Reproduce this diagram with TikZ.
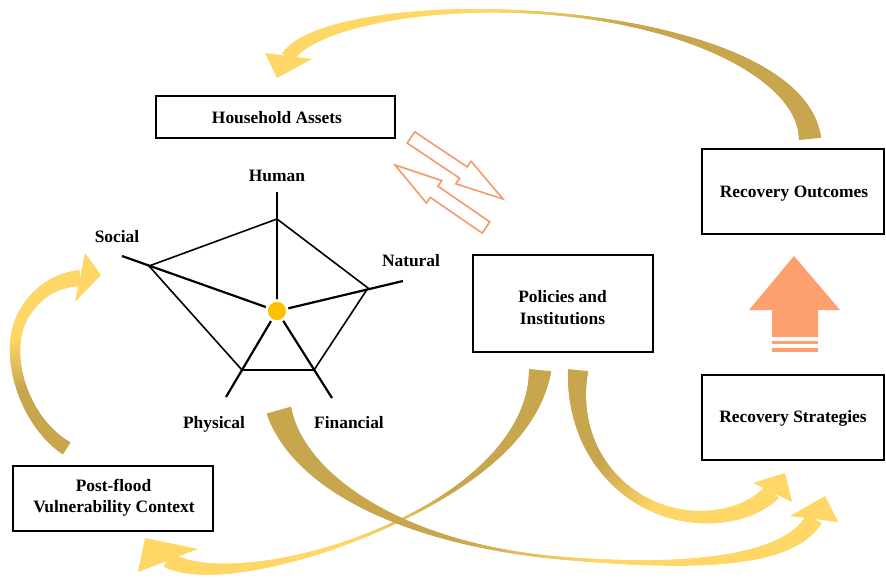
\documentclass[tikz,border=0pt]{standalone}
\usepackage{fontspec}
\setmainfont{Liberation Serif}
\usetikzlibrary{decorations.markings}
\definecolor{goldA}{RGB}{200,166,78}
\definecolor{goldB}{RGB}{255,215,102}
\definecolor{coralL}{RGB}{245,155,105}
\definecolor{coralF}{RGB}{251,160,110}
\definecolor{dotc}{RGB}{255,192,0}
\tikzset{
 taper/.style n args={4}{postaction={decorate,decoration={markings,
   mark=between positions 0 and 1 step 0.7pt with {%
     \pgfmathsetmacro\tpos{\pgfkeysvalueof{/pgf/decoration/mark info/distance from start}/\pgfdecoratedpathlength}%
     \pgfmathsetmacro\tq{\tpos<#3 ? (#3-\tpos)/#3 : (\tpos-#3)/(1-#3)}%
     \pgfmathsetmacro\trad{\tpos<#3 ? #2+(#1-#2)*\tq*\tq : #2+(#4-#2)*\tq*\tq}%
     \pgfmathtruncatemacro\tpc{max(0,min(100,100*(\tpos-#3+0.12)/0.24))}%
     \fill[goldB!\tpc!goldA] (-0.9pt,-\trad pt) rectangle (0.9pt,\trad pt);
   }}}},
 head/.style={fill=goldB},
 box/.style={draw=black, line width=1.8pt, fill=white, inner sep=0pt},
 lbl/.style={font=\fontsize{17.4}{23}\selectfont\bfseries, anchor=base, inner sep=0pt},
 spoke/.style={line width=2.2pt, black},
 pedge/.style={line width=1.6pt, black},
 hollow/.style={draw=coralL, line width=1.6pt, line join=miter, fill=white},
}
\begin{document}
\begin{tikzpicture}[x=1pt,y=-1pt]
\useasboundingbox[fill=white] (0,0) rectangle (886,578);

% ---- gold curved arrows ----
% top: Recovery Outcomes -> Household Assets
\path[taper={11}{1.2}{0.5}{7}] (810,138) .. controls (803,65) and (660,14) .. (500,11) .. controls (390,9) and (305,30) .. (288,57);
\fill[head] (265,53) -- (277,78) -- (312,59) -- cycle;
% left: Post-flood -> Social
\path[taper={7}{5}{0.45}{8}] (66,448) .. controls (22,420) and (2,350) .. (24,314) .. controls (38,290) and (58,280) .. (80,278);
\fill[head] (85,253) -- (101,275) -- (75,302) -- cycle;
% Policies -> Post-flood
\path[taper={11}{1.2}{0.45}{8}] (540,371) .. controls (532,450) and (440,510) .. (340,545) .. controls (260,572) and (195,575) .. (168,560);
\fill[head] (138,572) -- (145,538) -- (198,549) -- cycle;
% Assets -> Recovery Strategies
\path[taper={12.5}{1.2}{0.5}{9}] (279,411) .. controls (300,485) and (410,545) .. (560,558) .. controls (700,570) and (790,560) .. (814,519);
\fill[head] (790,516) -- (825,496) -- (838,522) -- cycle;
% Policies -> Recovery Strategies
\path[taper={10}{5}{0.45}{9}] (578,371) .. controls (570,455) and (630,515) .. (700,517) .. controls (735,518) and (760,505) .. (772,492);
\fill[head] (753,483) -- (785,473) -- (792,502) -- cycle;

% ---- boxes ----
\node[box, minimum width=239, minimum height=42] (ha) at (275.5,117) {};
\node[box, minimum width=182, minimum height=85] (ro) at (793,191.5) {};
\node[box, minimum width=180, minimum height=97] (pi) at (563,303.5) {};
\node[box, minimum width=182, minimum height=85] (rs) at (793,417.5) {};
\node[box, minimum width=200, minimum height=65] (pv) at (113,498.5) {};

\node[lbl] (hat) at (277,123) {Household Assets};
\node[lbl] (rot) at (794,197) {Recovery Outcomes};
\node[lbl] (pit1) at (562.5,302.5) {Policies and};
\node[lbl] (pit2) at (562.5,324) {Institutions};
\node[lbl] (rst) at (793,422) {Recovery Strategies};
\node[lbl] (pvt1) at (113.5,491) {Post-flood};
\node[lbl] (pvt2) at (114,512) {Vulnerability Context};

% ---- asset pentagon ----
\coordinate (c) at (277,311);
\coordinate (hv) at (277,219);
\coordinate (sv) at (149,266);
\coordinate (nv) at (368,288);
\coordinate (fv) at (314,370);
\coordinate (pv2) at (242,370);
\coordinate (he) at (277,192);
\coordinate (se) at (122,256);
\coordinate (ne) at (403,281);
\coordinate (fe) at (332,398);
\coordinate (pe) at (226,397);
\draw[pedge] (hv) -- (nv) -- (fv) -- (pv2) -- (sv) -- cycle;
\draw[spoke] (he) -- (c);
\draw[spoke] (se) -- (c);
\draw[spoke] (ne) -- (c);
\draw[spoke] (fe) -- (c);
\draw[spoke] (pe) -- (c);
\node[circle, fill=dotc, draw=white, line width=2.5pt, minimum size=21, inner sep=0pt] (dot) at (c) {};

\node[lbl] (hum) at (277,181) {Human};
\node[lbl] (soc) at (117,242) {Social};
\node[lbl] (nat) at (411,266) {Natural};
\node[lbl] (phy) at (214,428) {Physical};
\node[lbl] (fin) at (349,428) {Financial};

% ---- hollow double arrow ----
\draw[hollow] (414.8,131.9) -- (467.2,166.9) -- (471.0,161.2) -- (503,199) -- (455.8,183.8) -- (459.6,178.2) -- (407.2,143.1) -- cycle;
\draw[hollow] (489.8,221.9) -- (437.9,186.2) -- (441.8,180.6) -- (395,165) -- (426.4,203.0) -- (430.3,197.4) -- (482.2,233.1) -- cycle;

% ---- filled up arrow ----
\fill[coralF] (772,337) -- (772,310) -- (749,310) -- (794,256) -- (840,310) -- (818,310) -- (818,337) -- cycle;
\fill[coralF] (772,340.5) rectangle (818,344.3);
\fill[coralF] (772,348.3) rectangle (818,352.3);
\end{tikzpicture}
\end{document}
